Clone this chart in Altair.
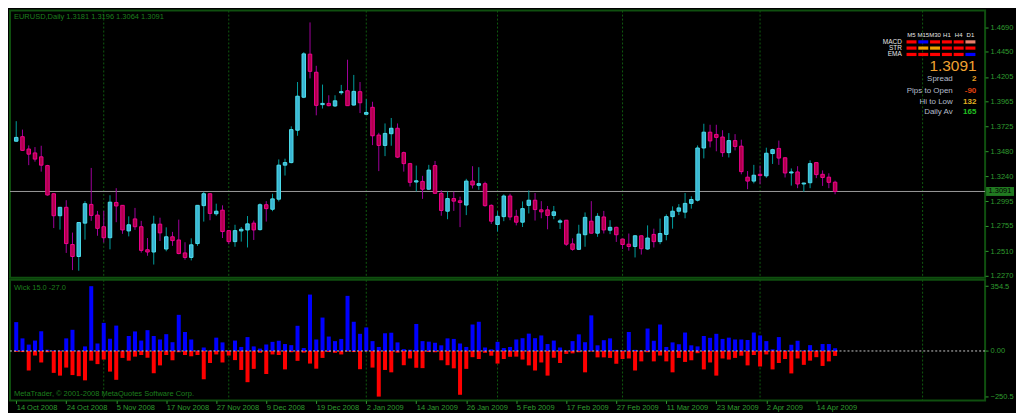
import json
import altair as alt
import pandas as pd

# ---------------- data (EURUSD daily candles) ----------------
opens = [1.3580, 1.3624, 1.3504, 1.3466, 1.3428, 1.3343, 1.3069, 1.2855, 1.2937, 1.2575,
         1.2458, 1.2783, 1.2965, 1.2861, 1.2748, 1.2641, 1.2984, 1.2956, 1.2707, 1.2824,
         1.2748, 1.2524, 1.2502, 1.2773, 1.2531, 1.2650, 1.2619, 1.2493, 1.2449, 1.2584,
         1.2953, 1.3069, 1.2874, 1.2909, 1.2710, 1.2603, 1.2707, 1.2717, 1.2783, 1.2720,
         1.2962, 1.2918, 1.3016, 1.3347, 1.3372, 1.3687, 1.4008, 1.4427, 1.4251, 1.3936,
         1.3948, 1.3923, 1.4052, 1.4071, 1.3932, 1.4062, 1.3842, 1.3910, 1.3640, 1.3539,
         1.3653, 1.3706, 1.3469, 1.3362, 1.3183, 1.3189, 1.3113, 1.3343, 1.3073, 1.2899,
         1.3022, 1.3000, 1.2959, 1.3192, 1.3151, 1.3167, 1.2956, 1.2770, 1.2846, 1.3047,
         1.2849, 1.2792, 1.2956, 1.3006, 1.2912, 1.2912, 1.2858, 1.2792, 1.2811, 1.2581,
         1.2528, 1.2670, 1.2802, 1.2685, 1.2843, 1.2714, 1.2742, 1.2628, 1.2578, 1.2556,
         1.2660, 1.2531, 1.2673, 1.2603, 1.2673, 1.2846, 1.2899, 1.2890, 1.2975, 1.3006,
         1.3514, 1.3668, 1.3646, 1.3621, 1.3469, 1.3586, 1.3532, 1.3230, 1.3192, 1.3258,
         1.3243, 1.3460, 1.3510, 1.3419, 1.3271, 1.3281, 1.3164, 1.3176, 1.3372, 1.3258,
         1.3230, 1.3181]
highs = [1.3775, 1.3693, 1.3539, 1.3523, 1.3536, 1.3350, 1.3072, 1.2940, 1.3006, 1.2691,
         1.2792, 1.2997, 1.3320, 1.2902, 1.2902, 1.3054, 1.3123, 1.2959, 1.2849, 1.2931,
         1.2805, 1.2638, 1.2855, 1.2836, 1.2742, 1.2698, 1.2817, 1.2597, 1.2635, 1.2959,
         1.3088, 1.3072, 1.2972, 1.2956, 1.2713, 1.2767, 1.2745, 1.2852, 1.2808, 1.2975,
         1.2997, 1.3069, 1.3403, 1.3410, 1.3725, 1.4156, 1.4446, 1.4736, 1.4314, 1.4131,
         1.4027, 1.4027, 1.4128, 1.4373, 1.4225, 1.4156, 1.3989, 1.3964, 1.3662, 1.3753,
         1.3806, 1.3753, 1.3479, 1.3369, 1.3343, 1.3243, 1.3350, 1.3388, 1.3104, 1.3091,
         1.3088, 1.3041, 1.3214, 1.3337, 1.3327, 1.3186, 1.2965, 1.2899, 1.3063, 1.3069,
         1.2912, 1.2994, 1.3101, 1.3076, 1.2997, 1.2950, 1.2950, 1.2824, 1.2814, 1.2635,
         1.2767, 1.2887, 1.2997, 1.2880, 1.2902, 1.2811, 1.2748, 1.2631, 1.2682, 1.2666,
         1.2663, 1.2761, 1.2729, 1.2827, 1.2868, 1.2946, 1.2968, 1.3076, 1.3044, 1.3539,
         1.3750, 1.3740, 1.3740, 1.3687, 1.3659, 1.3649, 1.3595, 1.3290, 1.3350, 1.3343,
         1.3517, 1.3507, 1.3586, 1.3422, 1.3315, 1.3337, 1.3176, 1.3394, 1.3375, 1.3296,
         1.3268, 1.3196]
lows = [1.3575, 1.3485, 1.3347, 1.3381, 1.3284, 1.3050, 1.2735, 1.2720, 1.2493, 1.2326,
        1.2320, 1.2622, 1.2805, 1.2660, 1.2594, 1.2528, 1.2792, 1.2679, 1.2654, 1.2717,
        1.2496, 1.2465, 1.2380, 1.2609, 1.2509, 1.2562, 1.2480, 1.2427, 1.2420, 1.2562,
        1.2798, 1.2811, 1.2855, 1.2638, 1.2578, 1.2553, 1.2603, 1.2546, 1.2619, 1.2710,
        1.2798, 1.2899, 1.2994, 1.3246, 1.3365, 1.3633, 1.3999, 1.4191, 1.3832, 1.3898,
        1.3920, 1.3913, 1.4033, 1.3923, 1.3926, 1.3854, 1.3840, 1.3542, 1.3289, 1.3435,
        1.3536, 1.3416, 1.3284, 1.3139, 1.3091, 1.3019, 1.3107, 1.3066, 1.2855, 1.2821,
        1.2902, 1.2744, 1.2861, 1.3120, 1.3107, 1.2943, 1.2776, 1.2701, 1.2802, 1.2811,
        1.2761, 1.2745, 1.2877, 1.2808, 1.2830, 1.2723, 1.2821, 1.2726, 1.2562, 1.2515,
        1.2521, 1.2553, 1.2682, 1.2650, 1.2682, 1.2676, 1.2600, 1.2531, 1.2515, 1.2449,
        1.2477, 1.2524, 1.2546, 1.2578, 1.2616, 1.2729, 1.2861, 1.2830, 1.2924, 1.2994,
        1.3413, 1.3520, 1.3482, 1.3428, 1.3422, 1.3491, 1.3258, 1.3113, 1.3170, 1.3161,
        1.3224, 1.3359, 1.3350, 1.3227, 1.3148, 1.3123, 1.3088, 1.3123, 1.3221, 1.3145,
        1.3123, 1.3064]
closes = [1.3617, 1.3491, 1.3454, 1.3406, 1.3347, 1.3057, 1.2855, 1.2937, 1.2584, 1.2458,
          1.2789, 1.2972, 1.2858, 1.2732, 1.2641, 1.2987, 1.2950, 1.2717, 1.2767, 1.2748,
          1.2518, 1.2502, 1.2773, 1.2688, 1.2650, 1.2613, 1.2487, 1.2449, 1.2572, 1.2956,
          1.3069, 1.2877, 1.2899, 1.2701, 1.2603, 1.2710, 1.2723, 1.2776, 1.2717, 1.2962,
          1.2924, 1.3019, 1.3347, 1.3372, 1.3693, 1.4018, 1.4430, 1.4260, 1.3929, 1.3948,
          1.3926, 1.3973, 1.4062, 1.3926, 1.4065, 1.3954, 1.3860, 1.3633, 1.3539, 1.3656,
          1.3706, 1.3425, 1.3362, 1.3180, 1.3195, 1.3113, 1.3299, 1.3073, 1.2906, 1.3022,
          1.2997, 1.2984, 1.3192, 1.3154, 1.3167, 1.2953, 1.2802, 1.2849, 1.3047, 1.2843,
          1.2792, 1.2924, 1.3006, 1.2915, 1.2893, 1.2858, 1.2893, 1.2805, 1.2578, 1.2528,
          1.2676, 1.2839, 1.2685, 1.2849, 1.2717, 1.2742, 1.2670, 1.2575, 1.2556, 1.2660,
          1.2534, 1.2638, 1.2603, 1.2682, 1.2846, 1.2899, 1.2931, 1.2975, 1.3013, 1.3514,
          1.3668, 1.3583, 1.3617, 1.3469, 1.3586, 1.3529, 1.3284, 1.3192, 1.3249, 1.3246,
          1.3463, 1.3498, 1.3416, 1.3271, 1.3281, 1.3164, 1.3173, 1.3362, 1.3255, 1.3227,
          1.3180, 1.3091]

date_labels = ["14 Oct 2008", "24 Oct 2008", "5 Nov 2008", "17 Nov 2008", "27 Nov 2008",
               "9 Dec 2008", "19 Dec 2008", "2 Jan 2009", "14 Jan 2009", "26 Jan 2009",
               "5 Feb 2009", "17 Feb 2009", "27 Feb 2009", "11 Mar 2009", "23 Mar 2009",
               "2 Apr 2009", "14 Apr 2009"]
date_label_bars = [0, 8, 16, 24, 32, 40, 48, 56, 64, 72, 80, 88, 96, 104, 112, 120, 128]
month_start_bars = [14, 34, 56, 77, 97, 119, 145]
price_ticks = [1.4690, 1.4450, 1.4205, 1.3965, 1.3725, 1.3480, 1.3240,
               1.2995, 1.2755, 1.2510, 1.2270]
wick_ticks = [354.5, 0.0, -250.5]
current_price = 1.3091
symbol_title = "EURUSD,Daily  1.3181 1.3196 1.3064 1.3091"
wick_title = "Wick 15.0 -27.0"
copyright_text = "MetaTrader, \u00a9 2001-2008 MetaQuotes Software Corp."

tf_labels = ["M5", "M15", "M30", "H1", "H4", "D1"]
ind_rows = ["MACD", "STR", "EMA"]
cell_colors = [
    ["#FF0000", "#0000FF", "#FF0000", "#FF0000", "#FF0000", "#E8806E"],
    ["#FF0000", "#F0A000", "#F0A000", "#FF0000", "#FF0000", "#FF0000"],
    ["#FF0000", "#FF0000", "#FF0000", "#FF0000", "#FF0000", "#0000FF"],
]
info_labels = ["Spread", "Pips to Open", "Hi to Low", "Daily Av"]
info_values = ["2", "-90", "132", "165"]
info_value_colors = ["#E8A020", "#E0400F", "#E0B020", "#22C022"]

# ---------------- styling / layout ----------------
W = 978
H_MAIN = 268
H_LOW = 121
FONT = "Liberation Sans"
GREEN = "#2f9b2f"
TITLE_GREEN = "#1d7f1d"
GRID = "#0f5a0f"
BORDER = "#0f4f0f"
UP_WICK, DN_WICK = "#009C9C", "#A0009C"
UP_FILL, DN_FILL = "#3AB4D2", "#B0004C"
UP_STROKE, DN_STROKE = "#4CDDEB", "#F0008C"

df = pd.DataFrame({"idx": list(range(len(opens))), "open": opens, "high": highs,
                   "low": lows, "close": closes})
df["dir"] = ["up" if c >= o else "down" for o, c in zip(opens, closes)]
body_top = df[["open", "close"]].max(axis=1)
body_bot = df[["open", "close"]].min(axis=1)
df["upper"] = ((df["high"] - body_top) * 10000).round(1)
df["lower"] = -((body_bot - df["low"]) * 10000).round(1)
df["zero"] = 0.0

grid_df = pd.DataFrame({"idx": month_start_bars})
price_df = pd.DataFrame({"price": [current_price], "label": [f"{current_price:.4f}"]})
zero_df = pd.DataFrame({"v": [0.0]})

xs = alt.Scale(domain=[-0.2, 154.2], nice=False, zero=False)
ys_main = alt.Scale(domain=[1.2251, 1.4851], nice=False, zero=False)
ys_low = alt.Scale(domain=[-271, 390], nice=False, zero=False)

price_axis = alt.Axis(orient="right", values=price_ticks, format=".4f", title=None,
                      grid=False, domain=False, tickSize=3, tickColor=GREEN,
                      labelColor=GREEN, labelFont=FONT, labelFontSize=7.5,
                      labelPadding=2, minExtent=30, maxExtent=30)
wick_axis = alt.Axis(orient="right", values=wick_ticks, title=None, grid=False,
                     domain=False, tickSize=3, tickColor=GREEN, labelColor=GREEN,
                     labelFont=FONT, labelFontSize=7.5, labelPadding=2,
                     labelExpr="datum.value == 0 ? '0.00' : format(datum.value, '.1f')",
                     minExtent=30, maxExtent=30)
date_axis = alt.Axis(orient="bottom", values=date_label_bars, title=None, grid=False,
                     domain=False, tickSize=3, tickColor=GREEN, labelColor=GREEN,
                     labelFont=FONT, labelFontSize=7.5, labelPadding=0,
                     labelAlign="left", labelBaseline="top", labelOverlap=False,
                     labelFlush=False,
                     labelExpr=f"{json.dumps(date_labels)}[indexof({json.dumps(date_label_bars)}, datum.value)]",
                     minExtent=11, maxExtent=11)


def txt(s, x, y, color, size=7.5, align="left", weight="normal"):
    return alt.Chart(alt.Data(values=[{"t": s}])).mark_text(
        align=align, baseline="middle", color=color, fontSize=size, font=FONT,
        fontWeight=weight).encode(x=alt.value(x), y=alt.value(y), text="t:N")


def cell(color, x0, x1, y0, y1):
    return alt.Chart(alt.Data(values=[{"c": 1}])).mark_rect(color=color).encode(
        x=alt.value(x0), x2=alt.value(x1), y=alt.value(y0), y2=alt.value(y1))


dir_dom = ["up", "down"]

# ---------------- main (price) panel ----------------
grid_main = alt.Chart(grid_df).mark_rule(color=GRID, strokeDash=[2, 2], strokeWidth=1).encode(
    x=alt.X("idx:Q", scale=xs, axis=None))
price_line = alt.Chart(price_df).mark_rule(color="#9a9a9a", strokeWidth=1).encode(
    y=alt.Y("price:Q", scale=ys_main, axis=price_axis))
wicks = alt.Chart(df).mark_rule(strokeWidth=1).encode(
    x=alt.X("idx:Q", scale=xs, axis=None),
    y=alt.Y("low:Q", scale=ys_main, axis=price_axis),
    y2="high:Q",
    color=alt.Color("dir:N", scale=alt.Scale(domain=dir_dom, range=[UP_WICK, DN_WICK]), legend=None))
bodies = alt.Chart(df).mark_bar(size=3.5, strokeWidth=1).encode(
    x=alt.X("idx:Q", scale=xs, axis=None),
    y=alt.Y("open:Q", scale=ys_main, axis=price_axis),
    y2="close:Q",
    fill=alt.Fill("dir:N", scale=alt.Scale(domain=dir_dom, range=[UP_FILL, DN_FILL]), legend=None),
    stroke=alt.Stroke("dir:N", scale=alt.Scale(domain=dir_dom, range=[UP_STROKE, DN_STROKE]), legend=None))

box_shape = "M-1,-0.32L1,-0.32L1,0.32L-1,0.32Z"
price_box = alt.Chart(price_df).mark_point(shape=box_shape, filled=True, size=784,
                                           color="#217a21", opacity=1).encode(
    x=alt.value(993), y=alt.Y("price:Q", scale=ys_main, axis=price_axis))
price_box_text = alt.Chart(price_df).mark_text(align="left", baseline="middle", color="#000000",
                                               fontSize=7.5, font=FONT).encode(
    x=alt.value(981.5), y=alt.Y("price:Q", scale=ys_main, axis=price_axis), text="label:N")

main_layers = [grid_main, price_line, wicks, bodies,
               txt(symbol_title, 4, 6, TITLE_GREEN, 7.5)]

col_centers = [904.2, 916.0, 927.8, 939.7, 951.5, 963.3]
row_centers = [31.4, 37.6, 44.0]
for c, lab in enumerate(tf_labels):
    main_layers.append(txt(lab, col_centers[c], 24.3, "#E6E6E6", 6, "center"))
for r, lab in enumerate(ind_rows):
    main_layers.append(txt(lab, 894.5, row_centers[r], "#E6E6E6", 6.5, "right"))
    for c in range(6):
        main_layers.append(cell(cell_colors[r][c], col_centers[c] - 5, col_centers[c] + 5,
                                row_centers[r] - 1.6, row_centers[r] + 1.6))
main_layers.append(txt(f"{current_price:.4f}", 969.5, 55.5, "#F0A030", 15.5, "right"))
info_y = [68.3, 80.3, 91.3, 102.0]
for k in range(4):
    main_layers.append(txt(info_labels[k], 945.6, info_y[k], "#B4BCCC", 8, "right"))
    main_layers.append(txt(info_values[k], 969.2, info_y[k], info_value_colors[k], 8, "right", "bold"))
main_layers += [price_box, price_box_text]

main = alt.layer(*main_layers).properties(width=W, height=H_MAIN)

# ---------------- lower (Wick indicator) panel ----------------
grid_low = alt.Chart(grid_df).mark_rule(color=GRID, strokeDash=[2, 2], strokeWidth=1).encode(
    x=alt.X("idx:Q", scale=xs, axis=date_axis))
up_bars = alt.Chart(df).mark_bar(size=4, color="#0000FF").encode(
    x=alt.X("idx:Q", scale=xs, axis=date_axis),
    y=alt.Y("upper:Q", scale=ys_low, axis=wick_axis), y2="zero:Q")
down_bars = alt.Chart(df).mark_bar(size=4, color="#FF0000").encode(
    x=alt.X("idx:Q", scale=xs, axis=date_axis),
    y=alt.Y("lower:Q", scale=ys_low, axis=wick_axis), y2="zero:Q")
zero_line = alt.Chart(zero_df).mark_rule(color="#C8C8C8", strokeDash=[2, 2], strokeWidth=1).encode(
    y=alt.Y("v:Q", scale=ys_low, axis=wick_axis))

lower = alt.layer(
    grid_low, up_bars, down_bars, zero_line,
    txt(wick_title, 4, 8.4, TITLE_GREEN, 7.5),
    txt(copyright_text, 4, 114.9, TITLE_GREEN, 7.5),
).properties(width=W, height=H_LOW)

chart = alt.vconcat(main, lower, spacing=2, bounds="flush").properties(
    background="#000000", padding=0
).configure_view(stroke=BORDER, strokeWidth=2, fill="#000000")

chart.save("out.html", embed_options={"renderer": "svg", "actions": False})
